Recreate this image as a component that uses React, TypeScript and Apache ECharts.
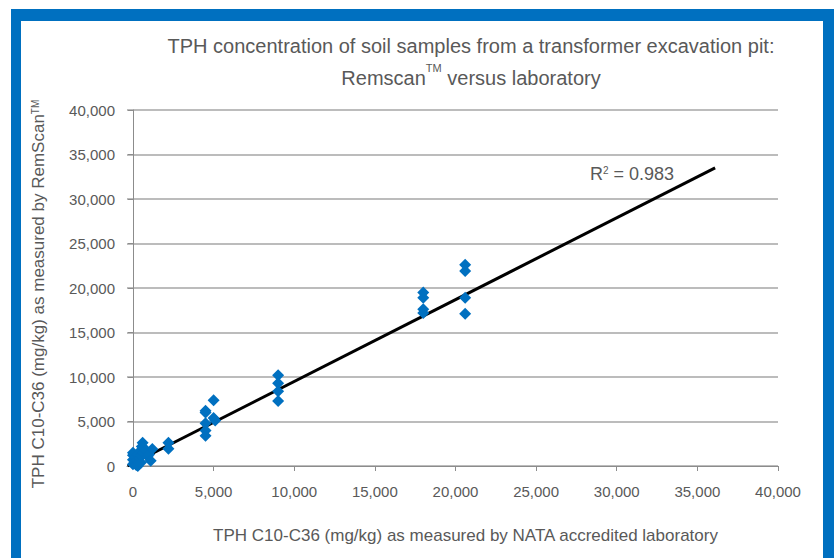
import React, { useEffect, useRef } from "react";
import * as echarts from "echarts";

const labValues = [
  0, 0, 0, 0, 100, 150, 200, 250, 300, 350, 400, 450, 500, 550, 600, 650, 700, 800, 900, 1000, 1100, 1200, 300, 500,
  2200, 2200,
  4500, 4500, 4500, 4500, 4500, 5000, 5000, 5100,
  9000, 9000, 9000, 9000,
  18000, 18000, 18000, 18000,
  20600, 20600, 20600, 20600,
];
const remscanValues = [
  200, 700, 1200, 1500, 400, 1000, 100, 600, 1300, 300, 900, 1700, 1200, 2200, 2600, 1500, 2000, 1700, 1100, 1300, 600, 1900, 0, 400,
  2600, 1950,
  6200, 6000, 4800, 4000, 3400, 7400, 5400, 5100,
  10200, 9300, 8400, 7300,
  19500, 18900, 17600, 17200,
  22600, 21900, 18900, 17100,
];
const trendX = [-330, 36100];
const trendY = [0, 33500];
const xTickValues = [0, 5000, 10000, 15000, 20000, 25000, 30000, 35000, 40000];
const r2Label = "R{sup|2} = 0.983";

const FONT = "'Liberation Sans', Arial, sans-serif";
const GREY = "#595959";
const BLUE = "#0070C0";

export default function App() {
  const ref = useRef<HTMLDivElement>(null);
  useEffect(() => {
    const chart = echarts.init(ref.current!, null, { renderer: "svg" });
    const fmt = (v: number) => v.toLocaleString("en-US");
    chart.setOption({
      animation: false,
      backgroundColor: "#ffffff",
      textStyle: { fontFamily: FONT },
      grid: { left: 127, right: 56, top: 110, bottom: 92, containLabel: false },
      title: {
        text: "TPH concentration of soil samples from a transformer excavation pit:\nRemscan{sup|TM} versus laboratory",
        left: 466,
        textAlign: "center",
        top: 25,
        textStyle: {
          fontFamily: FONT,
          fontSize: 20,
          fontWeight: "normal",
          color: GREY,
          lineHeight: 32,
          rich: {
            sup: { fontSize: 11, verticalAlign: "top", color: GREY, fontFamily: FONT, lineHeight: 26 },
          },
        },
      },
      xAxis: {
        type: "value",
        min: -370,
        max: 40000,
        name: "TPH C10-C36 (mg/kg) as measured by NATA accredited laboratory",
        nameLocation: "middle",
        nameGap: 61,
        nameTextStyle: { fontFamily: FONT, fontSize: 17, color: GREY, padding: [0, 0, 0, 26] },
        axisLine: { show: true, lineStyle: { color: "#8c8c8c", width: 1 } },
        axisTick: { show: true, length: 5, lineStyle: { color: "#8c8c8c" }, customValues: xTickValues.slice(1) },
        axisLabel: {
          customValues: xTickValues,
          formatter: fmt,
          fontFamily: FONT,
          fontSize: 15,
          color: GREY,
          margin: 18,
        },
        splitLine: { show: false },
      },
      yAxis: {
        type: "value",
        min: 0,
        max: 40000,
        interval: 5000,
        name: "TPH C10-C36 (mg/kg) as measured by RemScan{sup|TM}",
        nameLocation: "middle",
        nameRotate: 90,
        nameGap: 80,
        nameTextStyle: {
          fontFamily: FONT,
          fontSize: 17,
          color: GREY,
          padding: [0, 12, 0, 0],
          rich: { sup: { fontSize: 10, verticalAlign: "top", color: GREY, fontFamily: FONT } },
        },
        axisLine: { show: true, lineStyle: { color: "#8c8c8c", width: 1 } },
        axisTick: { show: true, length: 5, lineStyle: { color: "#8c8c8c" } },
        axisLabel: { formatter: fmt, fontFamily: FONT, fontSize: 15, color: GREY, margin: 12 },
        splitLine: { show: true, lineStyle: { color: "#a6a6a6", width: 1.5 } },
      },
      series: [
        {
          type: "line",
          data: trendX.map((x, i) => [x, trendY[i]]),
          symbol: "none",
          lineStyle: { color: "#000000", width: 3 },
          z: 3,
          silent: true,
        },
        {
          type: "scatter",
          data: labValues.map((x, i) => [x, remscanValues[i]]),
          symbol: "diamond",
          symbolSize: 12,
          itemStyle: { color: BLUE, opacity: 1 },
          z: 4,
        },
      ],
      graphic: [
        { type: "rect", shape: { x: 11, y: 9, width: 10, height: 560 }, style: { fill: BLUE } },
        { type: "rect", shape: { x: 11, y: 9, width: 830, height: 12 }, style: { fill: BLUE } },
        { type: "rect", shape: { x: 823, y: 9, width: 20, height: 560 }, style: { fill: BLUE } },
        {
          type: "text",
          x: 590,
          y: 165,
          style: {
            text: r2Label,
            fontFamily: FONT,
            fontSize: 18,
            fill: GREY,
            rich: { sup: { fontSize: 10, verticalAlign: "top", fill: GREY, fontFamily: FONT } },
          },
        },
      ],
    });
    return () => chart.dispose();
  }, []);
  return <div ref={ref} style={{ width: 834, height: 558, position: "absolute", left: 0, top: 0 }} />;
}
